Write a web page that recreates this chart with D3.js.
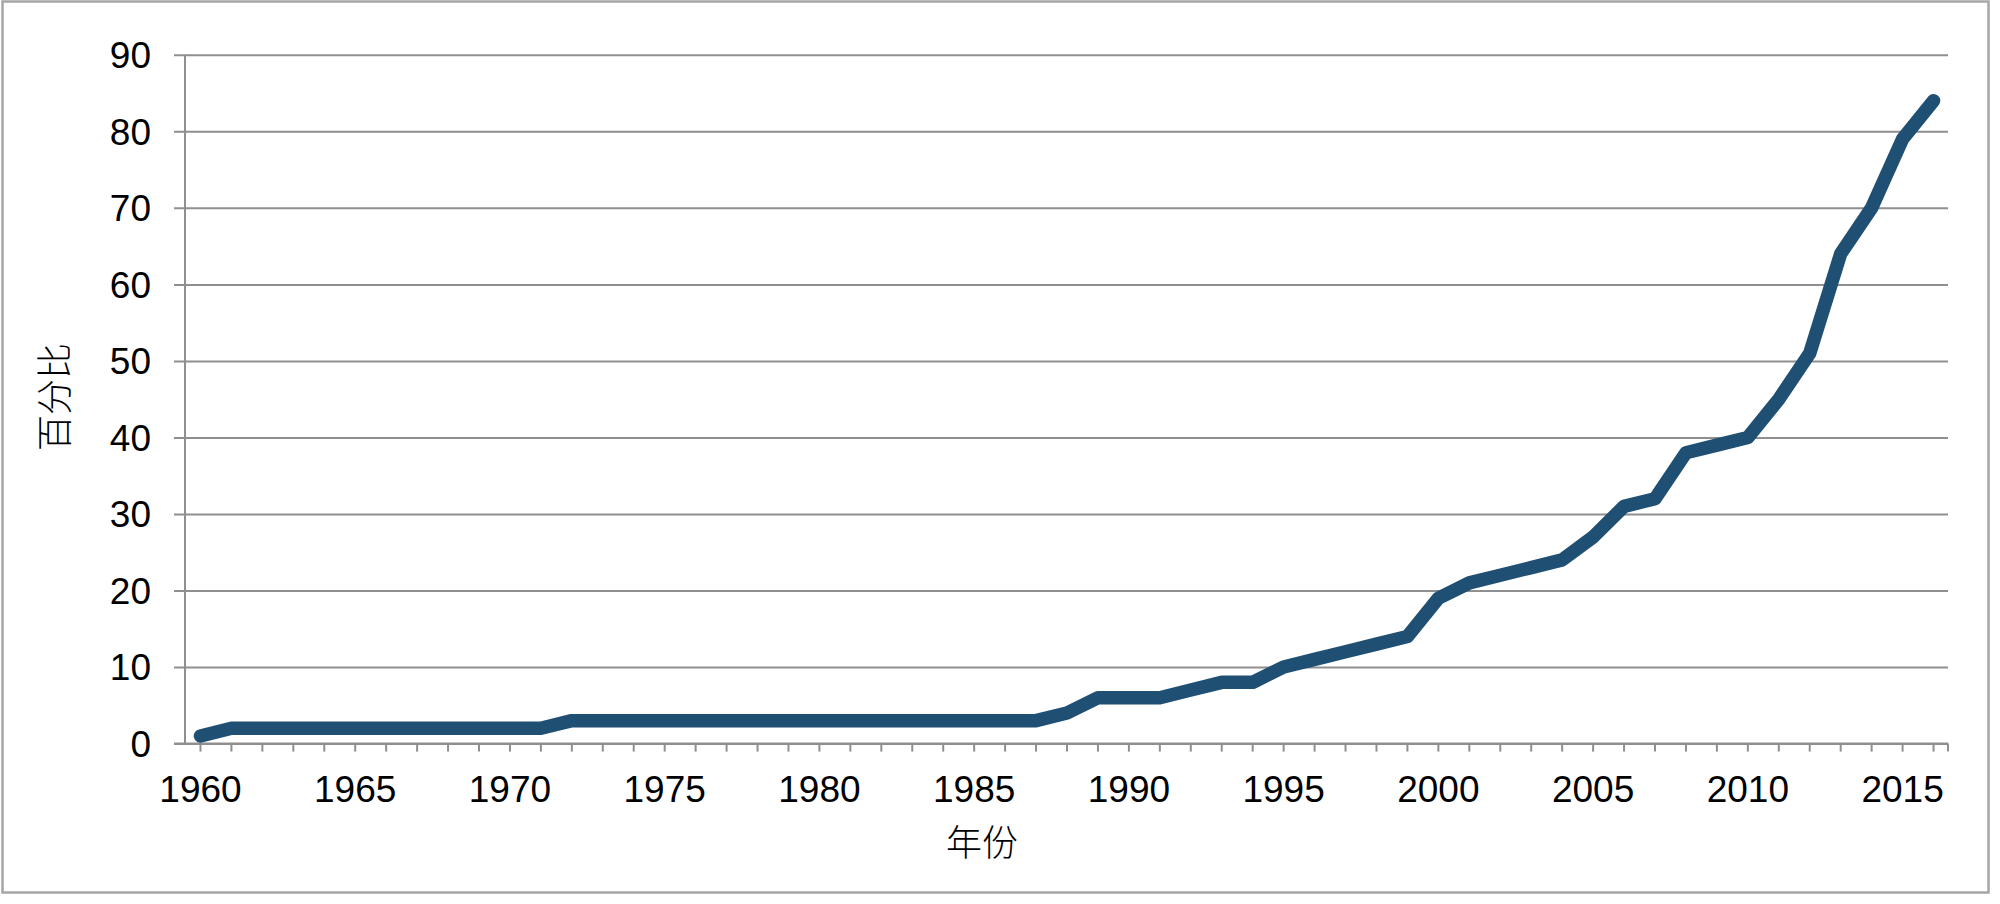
<!DOCTYPE html>
<html>
<head>
<meta charset="utf-8">
<script src="https://cdn.jsdelivr.net/npm/d3@7"></script>
<style>
  html, body { margin: 0; padding: 0; background: #fff; }
  svg { display: block; }
</style>
</head>
<body>
<svg id="chart" width="2000" height="904"></svg>
<script>
const years = d3.range(1960, 2017);
const values = [
  1, 2, 2, 2, 2, 2, 2, 2, 2, 2,
  2, 2, 3, 3, 3, 3, 3, 3, 3, 3,
  3, 3, 3, 3, 3, 3, 3, 3, 4, 6,
  6, 6, 7, 8, 8, 10, 11, 12, 13, 14,
  19, 21, 22, 23, 24, 27, 31, 32, 38, 39,
  40, 45, 51, 64, 70, 79, 84
];
const yTicks = [0, 10, 20, 30, 40, 50, 60, 70, 80, 90];
const xLabelYears = [1960, 1965, 1970, 1975, 1980, 1985, 1990, 1995, 2000, 2005, 2010, 2015];
const xTitle = "年份";
const yTitle = "百分比";

(function () {
const data = years.map((yr, i) => ({ year: yr, value: values[i] }));

const svg = d3.select("#chart");
const pLeft = 185, pRight = 1949, pTop = 54.8, pBottom = 743.6;
const gray = "#8f8f8f";
const numFont = "'Liberation Sans', Arial, sans-serif";
const cjkFont = "'Noto Sans CJK SC', sans-serif";

// outer border
svg.append("rect")
  .attr("x", 2.5).attr("y", 1.5)
  .attr("width", 1986).attr("height", 891)
  .attr("fill", "#fff")
  .attr("stroke", "#a6a6a6")
  .attr("stroke-width", 2.5);

const x = d3.scaleBand().domain(years).range([pLeft, pRight]);
const cx = d => x(d) + x.bandwidth() / 2;
const y = d3.scaleLinear().domain([0, 90]).range([pBottom, pTop]);

// gridlines + y ticks (tick extends left of axis)
const yAxis = d3.axisLeft(y).tickValues(yTicks).tickSize(-(pRight - 1 - pLeft)).tickPadding(0).tickFormat("");
const gy = svg.append("g").attr("transform", `translate(${pLeft},0)`).call(yAxis);
gy.select(".domain").remove();
gy.selectAll(".tick line").attr("stroke", gray).attr("stroke-width", 2).attr("x1", -11);

// y labels
svg.append("g").selectAll("text").data(yTicks).join("text")
  .attr("x", 151).attr("y", d => y(d))
  .attr("dy", "0.36em")
  .attr("text-anchor", "end")
  .attr("font-family", numFont).attr("font-size", 37).attr("fill", "#000")
  .text(d => d);

// y axis line
svg.append("line")
  .attr("x1", pLeft).attr("x2", pLeft).attr("y1", pTop).attr("y2", pBottom)
  .attr("stroke", gray).attr("stroke-width", 2);

// x axis
const xAxis = d3.axisBottom(x).tickSize(8).tickFormat("");
const gx = svg.append("g").attr("transform", `translate(0,${pBottom})`).call(xAxis);
gx.select(".domain").remove();
gx.selectAll(".tick line").attr("stroke", gray).attr("stroke-width", 2);
gx.append("line").attr("x1", 174).attr("x2", pRight - 1).attr("y1", 0).attr("y2", 0)
  .attr("stroke", gray).attr("stroke-width", 2);
gx.append("line").attr("x1", pRight - 1).attr("x2", pRight - 1).attr("y1", 0).attr("y2", 8)
  .attr("stroke", gray).attr("stroke-width", 2);

// x labels
svg.append("g").selectAll("text").data(xLabelYears).join("text")
  .attr("x", d => cx(d)).attr("y", 802)
  .attr("text-anchor", "middle")
  .attr("font-family", numFont).attr("font-size", 37).attr("fill", "#000")
  .text(d => d);

// line
const line = d3.line().x(d => cx(d.year)).y(d => y(d.value));
svg.append("path").datum(data)
  .attr("d", line)
  .attr("fill", "none")
  .attr("stroke", "#1f4f72")
  .attr("stroke-width", 13.5)
  .attr("stroke-linejoin", "round")
  .attr("stroke-linecap", "round");

// titles
svg.append("text")
  .attr("x", 982).attr("y", 843).attr("dy", "0.36em")
  .attr("text-anchor", "middle")
  .attr("font-family", cjkFont).attr("font-size", 36).attr("font-weight", 300).attr("fill", "#000")
  .text(xTitle);

svg.append("text")
  .attr("transform", "translate(55,397) rotate(-90)")
  .attr("dy", "0.36em")
  .attr("text-anchor", "middle")
  .attr("font-family", cjkFont).attr("font-size", 36).attr("font-weight", 300).attr("fill", "#000")
  .text(yTitle);
})();
</script>
</body>
</html>
